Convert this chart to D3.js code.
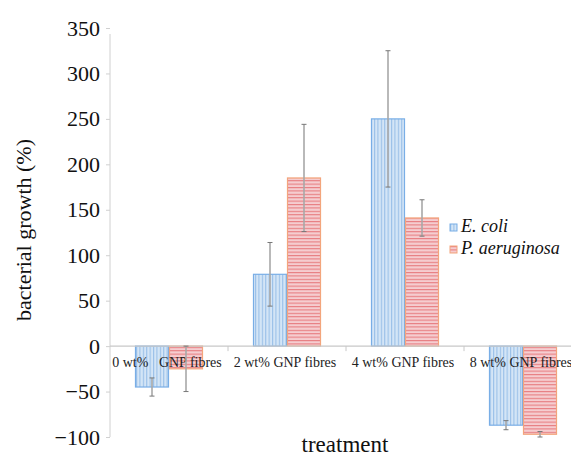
<!DOCTYPE html>
<html>
<head>
<meta charset="utf-8">
<script src="https://d3js.org/d3.v7.min.js"></script>
<style>
body { margin: 0; background: #fff; }
svg { display: block; }
svg text { font-family: "Liberation Serif", "Times New Roman", Times, "DejaVu Serif", serif; }
</style>
</head>
<body>
<div id="chart"></div>
<script>
// data
var categories = ["0 wt%\u00a0\u00a0\u00a0GNP fibres", "2 wt% GNP fibres", "4 wt% GNP fibres", "8 wt% GNP fibres"];
var seriesNames = ["E. coli", "P. aeruginosa"];
var ecoliValues = [-45, 79, 250, -87];
var ecoliErrors = [10, 35, 75, 5];
var aerugValues = [-25, 185, 141, -97];
var aerugErrors = [25, 59, 20, 3];
var yTicks = [350, 300, 250, 200, 150, 100, 50, 0, -50, -100];

var serif = "'Liberation Serif', 'Times New Roman', Times, 'DejaVu Serif', serif";

var rows = [];
categories.forEach(function(c, i) {
  rows.push({ cat: c, series: seriesNames[0], value: ecoliValues[i], err: ecoliErrors[i] });
  rows.push({ cat: c, series: seriesNames[1], value: aerugValues[i], err: aerugErrors[i] });
});

var width = 571, height = 459;
var svg = d3.select("#chart").append("svg")
  .attr("width", width)
  .attr("height", height);

// hatch patterns
var defs = svg.append("defs");
var pBlue = defs.append("pattern")
  .attr("id", "hatchBlue")
  .attr("patternUnits", "userSpaceOnUse")
  .attr("width", 3.4).attr("height", 10);
pBlue.append("rect").attr("width", 3.4).attr("height", 10).attr("fill", "#d4e5f6");
pBlue.append("line").attr("x1", 0.6).attr("x2", 0.6).attr("y1", 0).attr("y2", 10)
  .attr("stroke", "#8cb8e6").attr("stroke-width", 0.9);

var pRed = defs.append("pattern")
  .attr("id", "hatchRed")
  .attr("patternUnits", "userSpaceOnUse")
  .attr("width", 10).attr("height", 3.4);
pRed.append("rect").attr("width", 10).attr("height", 3.4).attr("fill", "#f5cdd0");
pRed.append("line").attr("x1", 0).attr("x2", 10).attr("y1", 0.6).attr("y2", 0.6)
  .attr("stroke", "#e46a6e").attr("stroke-width", 0.9);

var fills = { "E. coli": "url(#hatchBlue)", "P. aeruginosa": "url(#hatchRed)" };
var borders = { "E. coli": "#79aee6", "P. aeruginosa": "#f3a57c" };

// scales
var y = d3.scaleLinear().domain([-100, 350]).range([437, 28]);
var x0 = d3.scaleBand().domain(categories).range([110, 582]).paddingInner(0).paddingOuter(0);
var x1 = d3.scaleBand().domain(seriesNames).range([0, x0.bandwidth()]).paddingInner(0).paddingOuter(0.735);

// y axis
var yAxis = svg.append("g")
  .attr("transform", "translate(110,0)")
  .call(d3.axisLeft(y).tickValues(yTicks).tickSize(4).tickPadding(6)
    .tickFormat(function(d) { return d < 0 ? "\u2212" + Math.abs(d) : d; }));
yAxis.attr("font-family", serif);
yAxis.select(".domain").attr("stroke", "#d0d0d0").attr("d", "M0," + 34 + "V" + y(-100));
yAxis.selectAll(".tick line").attr("stroke", "#d0d0d0");
yAxis.selectAll(".tick text")
  .attr("font-size", 22)
  .attr("fill", "#111")
  .attr("font-family", serif);

// bars
svg.append("g").selectAll("rect")
  .data(rows)
  .join("rect")
  .attr("x", function(d) { return x0(d.cat) + x1(d.series) + 0.5; })
  .attr("width", x1.bandwidth() - 1)
  .attr("y", function(d) { return y(Math.max(0, d.value)); })
  .attr("height", function(d) { return Math.abs(y(d.value) - y(0)); })
  .attr("fill", function(d) { return fills[d.series]; })
  .attr("stroke", function(d) { return borders[d.series]; })
  .attr("stroke-width", 1.2);

// zero line with category separators
var xAxis = svg.append("g")
  .attr("transform", "translate(0," + y(0) + ")");
xAxis.append("line")
  .attr("x1", 110).attr("x2", width)
  .attr("stroke", "#c8c8c8").attr("stroke-width", 1.2);
xAxis.selectAll(".sep")
  .data(categories.slice(1))
  .join("line")
  .attr("class", "sep")
  .attr("x1", function(d) { return x0(d); })
  .attr("x2", function(d) { return x0(d); })
  .attr("y1", 0).attr("y2", 5)
  .attr("stroke", "#c8c8c8");
xAxis.selectAll(".catlabel")
  .data(categories)
  .join("text")
  .attr("class", "catlabel")
  .attr("x", function(d) { return x0(d) + x0.bandwidth() / 2 - 2; })
  .attr("y", 21)
  .attr("text-anchor", "middle")
  .attr("font-size", 14)
  .attr("font-family", serif)
  .attr("fill", "#222")
  .text(function(d) { return d; });

// error bars
var eb = svg.append("g").selectAll("g")
  .data(rows)
  .join("g")
  .attr("transform", function(d) { return "translate(" + (x0(d.cat) + x1(d.series) + x1.bandwidth() / 2) + ",0)"; });
eb.append("line")
  .attr("y1", function(d) { return y(d.value + d.err); })
  .attr("y2", function(d) { return y(d.value - d.err); })
  .attr("stroke", "#a8a8a8").attr("stroke-width", 1.6);
eb.append("line")
  .attr("x1", -2.5).attr("x2", 2.5)
  .attr("y1", function(d) { return y(d.value + d.err); })
  .attr("y2", function(d) { return y(d.value + d.err); })
  .attr("stroke", "#777").attr("stroke-width", 1);
eb.append("line")
  .attr("x1", -2.5).attr("x2", 2.5)
  .attr("y1", function(d) { return y(d.value - d.err); })
  .attr("y2", function(d) { return y(d.value - d.err); })
  .attr("stroke", "#777").attr("stroke-width", 1);

// axis titles
svg.append("text")
  .attr("transform", "translate(31," + 230 + ") rotate(-90)")
  .attr("text-anchor", "middle")
  .attr("font-size", 22)
  .attr("font-family", serif)
  .attr("fill", "#111")
  .text("bacterial growth (%)");
svg.append("text")
  .attr("x", 345).attr("y", 452)
  .attr("text-anchor", "middle")
  .attr("font-size", 23)
  .attr("font-family", serif)
  .attr("fill", "#111")
  .text("treatment");

// legend
var legend = svg.append("g").attr("transform", "translate(450,224)");
var li = legend.selectAll("g")
  .data(seriesNames)
  .join("g")
  .attr("transform", function(d, i) { return "translate(0," + (i * 22) + ")"; });
li.append("rect")
  .attr("width", 7).attr("height", 7)
  .attr("fill", function(d) { return fills[d]; })
  .attr("stroke", function(d) { return borders[d]; })
  .attr("stroke-width", 1);
li.append("text")
  .attr("x", 11).attr("y", 8)
  .attr("font-size", 18)
  .attr("font-style", "italic")
  .attr("font-family", serif)
  .attr("fill", "#111")
  .text(function(d) { return d; });
</script>
</body>
</html>
